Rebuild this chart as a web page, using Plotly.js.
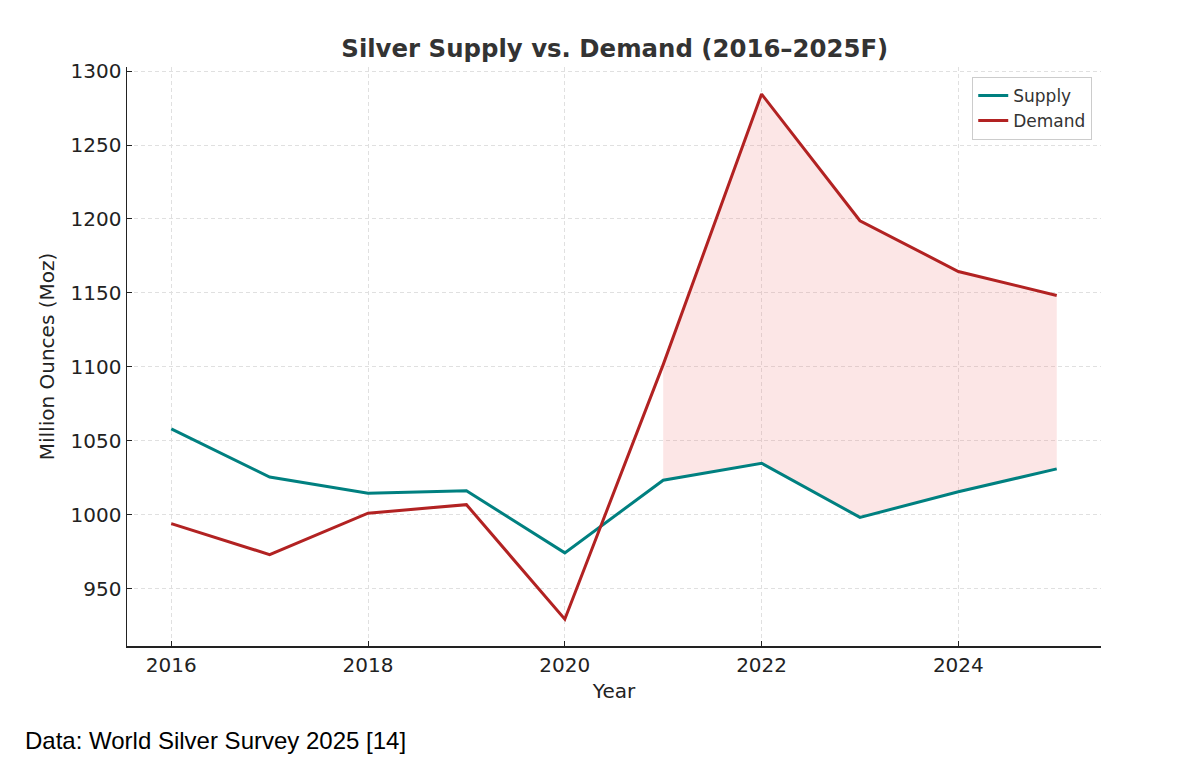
<!DOCTYPE html>
<html>
<head>
<meta charset="utf-8">
<script src="https://cdn.plot.ly/plotly-3.0.1.min.js"></script>
<style>html,body{margin:0;padding:0;background:#fff;}#chart{width:1188px;height:764px;}</style>
</head>
<body>
<div id="chart"></div>
<script>
const years = [2016, 2017, 2018, 2019, 2020, 2021, 2022, 2023, 2024, 2025];
const supply = [1058, 1025.5, 1014.5, 1016.2, 974.2, 1023.3, 1034.8, 998.2, 1015.5, 1031];
const demand = [994, 973, 1001, 1006.8, 929.3, 1101.5, 1284.5, 1198.8, 1164.5, 1148.3];
const tickYearsX = [2016, 2018, 2020, 2022, 2024];
const tickValsY = [950, 1000, 1050, 1100, 1150, 1200, 1250, 1300];

// fill where demand exceeds supply (matplotlib fill_between with where, no interpolation)
const fx = [], fs = [], fd = [];
for (let i = 0; i < years.length; i++) {
  if (demand[i] > supply[i]) { fx.push(years[i]); fs.push(supply[i]); fd.push(demand[i]); }
}

const traces = [
  {x: fx, y: fs, mode: 'lines', line: {width: 0, color: 'rgba(0,0,0,0)'}, showlegend: false, hoverinfo: 'skip'},
  {x: fx, y: fd, mode: 'lines', line: {width: 0, color: 'rgba(0,0,0,0)'}, fill: 'tonexty', fillcolor: 'rgba(240,128,128,0.2)', showlegend: false, hoverinfo: 'skip'},
  {x: years, y: supply, mode: 'lines', name: 'Supply', line: {color: '#008080', width: 3}},
  {x: years, y: demand, mode: 'lines', name: 'Demand', line: {color: '#B22222', width: 3}}
];

const font = 'DejaVu Sans, sans-serif';
const layout = {
  width: 1188, height: 764,
  paper_bgcolor: '#fff', plot_bgcolor: '#fff',
  margin: {l: 127, r: 87, t: 67, b: 118},
  font: {family: font, color: '#222', size: 20},
  title: {text: '<b>Silver Supply vs. Demand (2016–2025F)</b>', font: {family: font, size: 24.4, color: '#333'}, x: 0.5175, xanchor: 'center', y: 0.937, yanchor: 'middle'},
  xaxis: {
    range: [2015.55, 2025.45], tickvals: tickYearsX, ticktext: tickYearsX.map(String),
    ticks: 'inside', ticklen: 5, tickcolor: '#222', tickwidth: 1,
    showline: true, linecolor: '#222', linewidth: 1.5, mirror: false,
    showgrid: true, gridcolor: '#e0e0e0', griddash: '4px,3px', gridwidth: 1, zeroline: false,
    tickfont: {size: 20, color: '#222'},
    title: {text: 'Year', font: {size: 20, color: '#222'}, standoff: 8}
  },
  yaxis: {
    range: [911.2, 1302.8], tickvals: tickValsY, ticktext: tickValsY.map(String),
    ticks: 'inside', ticklen: 5, tickcolor: '#222', tickwidth: 1,
    showline: true, linecolor: '#222', linewidth: 1.5, mirror: false,
    showgrid: true, gridcolor: '#e0e0e0', griddash: '4px,3px', gridwidth: 1, zeroline: false,
    tickfont: {size: 20, color: '#222'},
    title: {text: 'Million Ounces (Moz)', font: {size: 20, color: '#222'}, standoff: 10}
  },
  legend: {
    x: 0.991, xanchor: 'right', y: 0.983, yanchor: 'top', traceorder: 'normal',
    bgcolor: 'rgba(255,255,255,0.9)', bordercolor: '#cccccc', borderwidth: 1,
    font: {size: 17, color: '#333'}, tracegroupgap: 0
  },
  annotations: [{
    text: 'Data: World Silver Survey 2025 [14]', xref: 'paper', yref: 'paper',
    x: (23 - 127) / 974, y: (646 - 740) / 579, xanchor: 'left', yanchor: 'middle',
    showarrow: false, font: {family: 'Liberation Sans, Arial, sans-serif', size: 24, color: '#000'}
  }]
};

Plotly.newPlot('chart', traces, layout, {displayModeBar: false, staticPlot: true});
</script>
</body>
</html>
